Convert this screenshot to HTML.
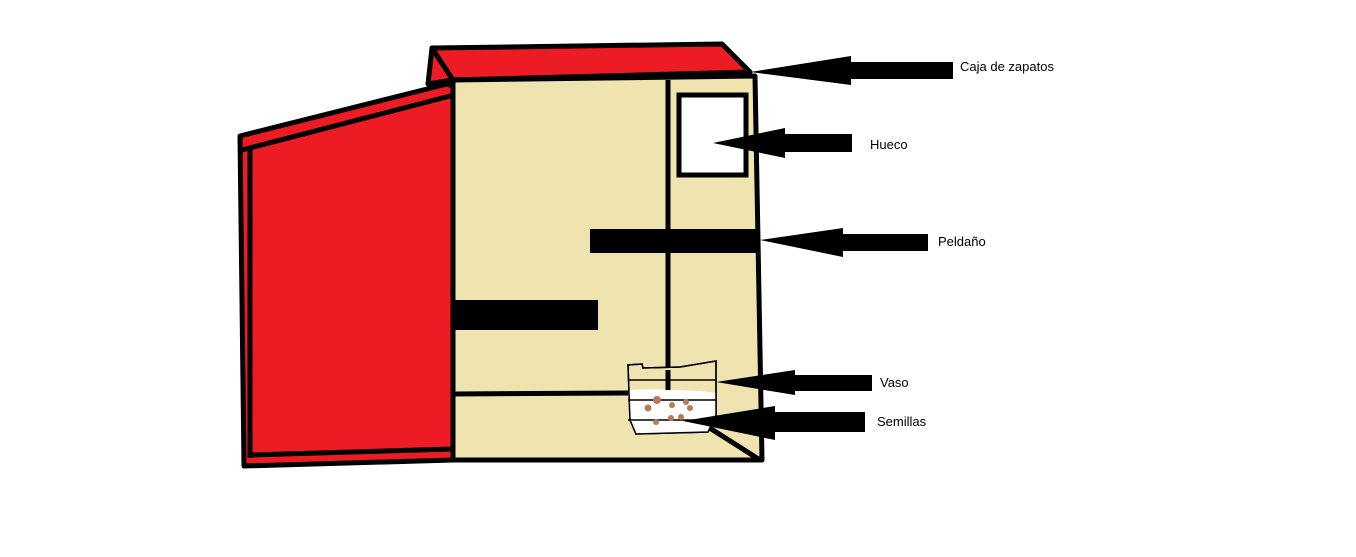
<!DOCTYPE html>
<html><head><style>html,body{margin:0;padding:0;background:#fff}svg{display:block}</style></head>
<body>
<svg width="1356" height="557" viewBox="0 0 1356 557" xmlns="http://www.w3.org/2000/svg" font-family="'Liberation Sans', sans-serif" font-size="13">
<!-- left red panel -->
<polygon points="240,136 447,84 453,86 453,460 244,466" fill="#ed1c24" stroke="#000" stroke-width="5" stroke-linejoin="round"/>
<line x1="242" y1="150" x2="454" y2="95" stroke="#000" stroke-width="5"/>
<line x1="250" y1="150" x2="250" y2="458" stroke="#000" stroke-width="5"/>
<line x1="250" y1="455" x2="453" y2="449" stroke="#000" stroke-width="5"/>
<!-- lid -->
<polygon points="432,48 428,84 453,80" fill="#ed1c24" stroke="#000" stroke-width="5" stroke-linejoin="round"/>
<polygon points="432,48 722,44 750,72 453,80" fill="#ed1c24" stroke="#000" stroke-width="5" stroke-linejoin="round"/>
<!-- front face -->
<polygon points="453,80 755,76 762,460 453,460" fill="#efe4b0" stroke="#000" stroke-width="5" stroke-linejoin="round"/>
<line x1="668" y1="80" x2="668" y2="375" stroke="#000" stroke-width="5"/>
<rect x="679" y="95" width="67" height="80" fill="#fff" stroke="#000" stroke-width="5"/>
<rect x="590" y="229" width="167" height="24" fill="#000"/>
<rect x="453" y="300" width="145" height="30" fill="#000"/>
<line x1="453" y1="394" x2="628" y2="393" stroke="#000" stroke-width="5"/>
<line x1="705" y1="425" x2="760" y2="460" stroke="#000" stroke-width="5"/>
<!-- vaso -->
<path d="M628,365 L642,364 L643,368 L680,367 L716,361 L716,415 L708,432 L636,434 L630,420 Z" fill="#efe4b0" stroke="#000" stroke-width="1.5"/>
<path d="M629,390 L650,389 L700,391 L716,393 L716,415 L708,432 L636,434 L630,420 Z" fill="#fff"/>
<path d="M628,365 L642,364 L643,368 L680,367 L716,361 L716,415 L708,432 L636,434 L630,420 Z" fill="none" stroke="#000" stroke-width="1.5"/>
<line x1="668" y1="370" x2="668" y2="390" stroke="#000" stroke-width="5"/>
<line x1="628" y1="380" x2="716" y2="380" stroke="#000" stroke-width="1.5"/>
<line x1="628" y1="400" x2="716" y2="400" stroke="#000" stroke-width="1.5"/>
<line x1="628" y1="420" x2="716" y2="420" stroke="#000" stroke-width="1.5"/>
<g fill="#b97a57">
<circle cx="657" cy="400" r="4"/><circle cx="648" cy="408" r="3.5"/><circle cx="672" cy="405" r="3"/><circle cx="686" cy="402" r="3"/><circle cx="690" cy="408" r="3"/><circle cx="681" cy="417" r="3"/><circle cx="656" cy="422" r="3"/><circle cx="671" cy="418" r="3"/>
</g>
<!-- arrows -->
<g fill="#000">
<polygon points="750,72 851,56 851,85"/><rect x="849" y="62" width="104" height="17"/>
<polygon points="713,143 785,128 785,158"/><rect x="783" y="134" width="69" height="18"/>
<polygon points="760,240 843,228 843,257"/><rect x="841" y="234" width="87" height="17"/>
<polygon points="716,382 795,370 795,395"/><rect x="793" y="375" width="79" height="16"/>
<polygon points="683,421 775,406 775,440"/><rect x="773" y="412" width="92" height="20"/>
</g>
<g fill="#000">
<text x="960" y="71">Caja de zapatos</text>
<text x="870" y="149">Hueco</text>
<text x="938" y="246">Peldaño</text>
<text x="880" y="387">Vaso</text>
<text x="877" y="426">Semillas</text>
</g>
</svg>
</body></html>
